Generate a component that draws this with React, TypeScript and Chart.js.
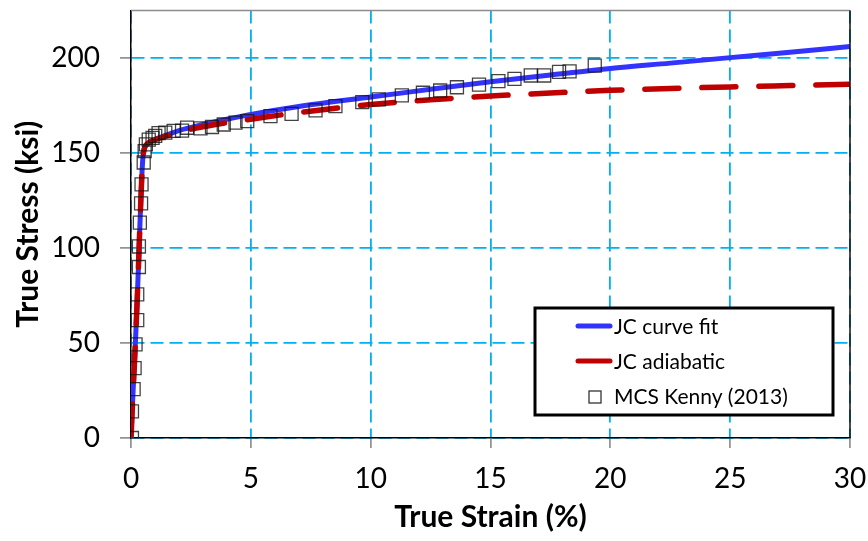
import React, { useEffect, useRef } from "react";
import { Chart, registerables } from "chart.js";

Chart.register(...registerables);

// JC curve fit (blue)
const fitStrain = [0, 0.07, 0.13, 0.19, 0.25, 0.31, 0.36, 0.41, 0.46, 0.5, 0.56, 0.7, 1, 1.5, 2, 3, 4, 5, 7, 10, 12.5, 15, 17.5, 20, 22.5, 25, 27.5, 30];
const fitStress = [0, 20, 36, 52, 70, 90, 108, 125, 140, 148, 152.5, 155, 157.2, 159.5, 161.8, 165, 167.8, 170.3, 174.5, 179.5, 183.5, 187.5, 191, 194.5, 197.3, 200.2, 203, 206];

// JC adiabatic (red, dashed)
const adiaStrain = [0, 0.07, 0.13, 0.19, 0.25, 0.31, 0.36, 0.41, 0.46, 0.5, 0.56, 0.7, 1, 1.5, 2, 3, 4, 5, 7, 10, 12.5, 15, 17.5, 20, 22.5, 25, 27.5, 30];
const adiaStress = [0, 20, 36, 52, 70, 90, 108, 125, 140, 148, 152.5, 155, 157, 159, 161, 163.8, 166, 167.8, 171.3, 175.5, 178, 180, 181.6, 183, 184, 184.8, 185.5, 186.2];

// MCS Kenny (2013) test data (squares)
const kennyStrain = [0.04, 0.04, 0.11, 0.15, 0.19, 0.26, 0.26, 0.33, 0.33, 0.37, 0.42, 0.44, 0.53, 0.57, 0.62, 0.74, 0.9, 1.01, 1.15, 1.43, 1.78, 2.13, 2.34, 2.9, 3.38, 3.87, 4.36, 4.85, 5.82, 6.7, 7.7, 8.53, 9.65, 10.34, 11.3, 12.18, 12.9, 13.6, 14.52, 15.33, 16.0, 16.68, 17.24, 17.86, 18.3, 19.35];
const kennyStress = [0, 14, 25.7, 36.8, 49.3, 62, 75.6, 90, 100.8, 113.4, 123.5, 133.5, 145, 151, 154.5, 157, 158, 159, 160.5, 160.7, 161.6, 161.8, 163.3, 163, 163.7, 165, 166, 166.8, 169.4, 170.6, 172.4, 174.7, 176.8, 178.2, 180.3, 181.7, 182.9, 184.6, 186, 187.8, 189, 190.8, 190.8, 192.7, 193, 196];

const seriesNames = ["JC curve fit", "JC adiabatic", "MCS Kenny (2013)"];
const xTitle = "True Strain (%)";
const yTitle = "True Stress (ksi)";

const FONT = "Lato, 'Open Sans', sans-serif";
const BLUE = "#3333FF";
const RED = "#C00000";
const GRID = "#00B0F0";

const pts = (xs: number[], ys: number[]) => xs.map((x, i) => ({ x, y: ys[i] }));

const framePlugin = {
  id: "frameAndLegend",
  afterDraw(chart: any) {
    const { ctx, chartArea } = chart;
    const { left, right, top, bottom } = chartArea;
    ctx.save();
    // top border (gray) and right border (black)
    ctx.lineWidth = 1.5;
    ctx.strokeStyle = "#8c8c8c";
    ctx.beginPath();
    ctx.moveTo(left, top);
    ctx.lineTo(right, top);
    ctx.stroke();
    ctx.strokeStyle = "#111";
    ctx.beginPath();
    ctx.moveTo(right, top);
    ctx.lineTo(right, bottom);
    ctx.stroke();

    // legend
    const bx = right - 315;
    const by = bottom - 130;
    const bw = 298;
    const bh = 107;
    ctx.fillStyle = "#fff";
    ctx.fillRect(bx, by, bw, bh);
    ctx.lineWidth = 3;
    ctx.strokeStyle = "#000";
    ctx.strokeRect(bx, by, bw, bh);

    const rows = [by + 18, by + 53, by + 88];
    ctx.lineCap = "round";
    ctx.lineWidth = 5;
    ctx.strokeStyle = BLUE;
    ctx.beginPath();
    ctx.moveTo(bx + 43, rows[0]);
    ctx.lineTo(bx + 75, rows[0]);
    ctx.stroke();
    ctx.strokeStyle = RED;
    ctx.beginPath();
    ctx.moveTo(bx + 43, rows[1]);
    ctx.lineTo(bx + 75, rows[1]);
    ctx.stroke();
    ctx.lineCap = "butt";
    ctx.lineWidth = 1.3;
    ctx.strokeStyle = "#333";
    ctx.strokeRect(bx + 54, rows[2] - 5, 12, 12);

    ctx.fillStyle = "#000";
    ctx.font = `21px ${FONT}`;
    ctx.textAlign = "left";
    ctx.textBaseline = "middle";
    ctx.fillText(seriesNames[0], bx + 79, rows[0] + 1);
    ctx.fillText(seriesNames[1], bx + 79, rows[1] + 1);
    ctx.fillText(seriesNames[2], bx + 79, rows[2] + 1);
    ctx.restore();
  },
};

export default function App() {
  const ref = useRef<HTMLCanvasElement | null>(null);

  useEffect(() => {
    if (!ref.current) return;
    const chart = new Chart(ref.current, {
      type: "line",
      data: {
        datasets: [
          {
            label: seriesNames[0],
            data: pts(fitStrain, fitStress),
            borderColor: BLUE,
            borderWidth: 5,
            pointRadius: 0,
            cubicInterpolationMode: "monotone",
            fill: false,
            order: 3,
          },
          {
            label: seriesNames[1],
            data: pts(adiaStrain, adiaStress),
            borderColor: RED,
            borderWidth: 5.5,
            borderDash: [34, 23],
            borderCapStyle: "round",
            pointRadius: 0,
            cubicInterpolationMode: "monotone",
            fill: false,
            order: 2,
          },
          {
            label: seriesNames[2],
            data: pts(kennyStrain, kennyStress),
            showLine: false,
            pointStyle: "rect",
            pointRadius: 9.2,
            pointBorderWidth: 1.3,
            pointBorderColor: "rgba(20,20,20,0.8)",
            pointBackgroundColor: "rgba(0,0,0,0)",
            order: 1,
          },
        ],
      } as any,
      options: {
        animation: false,
        responsive: true,
        maintainAspectRatio: false,
        layout: { padding: { left: 0, right: 18, top: 8, bottom: 0 } },
        plugins: { legend: { display: false }, tooltip: { enabled: false } },
        scales: {
          x: {
            type: "linear",
            min: 0,
            max: 30,
            ticks: {
              stepSize: 5,
              padding: 14,
              color: "#000",
              font: { family: FONT, size: 28 },
              maxRotation: 0,
            },
            grid: {
              color: GRID,
              lineWidth: 1.8,
              tickLength: 10,
              tickColor: "#808080",
              tickWidth: 1.5,
            },
            border: { color: "#000", width: 1.5, dash: [13, 6] },
            title: {
              display: true,
              text: xTitle,
              color: "#000",
              font: { family: FONT, size: 30, weight: "bold" },
              padding: { top: 6, bottom: 6 },
            },
            afterFit: (s: any) => {
              s.height = 103;
              s.paddingLeft = 0;
              s.paddingRight = 0;
            },
          },
          y: {
            type: "linear",
            min: 0,
            max: 225,
            ticks: {
              stepSize: 50,
              includeBounds: false,
              padding: 20,
              color: "#000",
              font: { family: FONT, size: 28 },
            },
            grid: {
              color: GRID,
              lineWidth: 1.8,
              tickLength: 11,
              tickColor: "#808080",
              tickWidth: 1.5,
            },
            border: { color: "#000", width: 1.5, dash: [13, 6] },
            title: {
              display: true,
              text: yTitle,
              color: "#000",
              font: { family: FONT, size: 30, weight: "bold" },
              padding: { top: 10, bottom: 10 },
            },
            afterFit: (s: any) => {
              s.width = 131;
              s.paddingTop = 0;
              s.paddingBottom = 0;
            },
          },
        },
      } as any,
      plugins: [framePlugin],
    });
    return () => chart.destroy();
  }, []);

  return (
    <div style={{ position: "fixed", left: 0, top: 0, width: 868, height: 541, background: "#fff" }}>
      <canvas ref={ref} />
    </div>
  );
}
